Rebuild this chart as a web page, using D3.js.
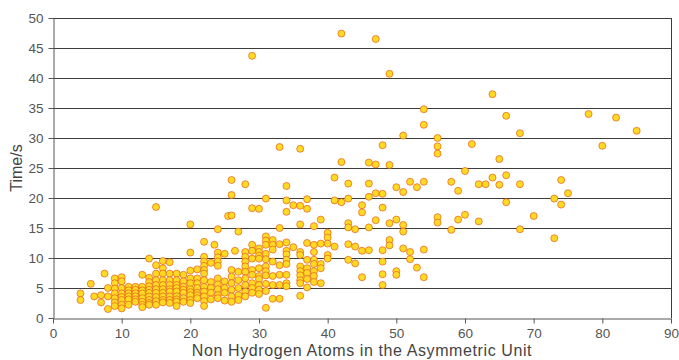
<!DOCTYPE html>
<html>
<head>
<meta charset="utf-8">
<script src="https://cdn.jsdelivr.net/npm/d3@7/dist/d3.min.js"></script>
<style>
  html, body { margin: 0; padding: 0; background: #fff; }
  svg { display: block; font-family: "Liberation Sans", Arial, sans-serif; }
</style>
</head>
<body>
<svg id="chart" width="679" height="360"></svg>
<script>
// columns: [atoms, [times in s]]
const lowRange = [
  [4, [4.1, 3]], [5.5, [5.7]], [6, [3.6]], [7, [3.8, 2.6]], [7.5, [7.4]],
  [8, [5, 3.6, 1.5]],
  [9, [6.6, 5.8, 4.9, 4.1, 3.3, 2.6, 2]],
  [10, [6.8, 6.1, 5, 4.1, 3.5, 3, 2.2, 1.6]],
  [11, [5.2, 4.6, 4.1, 3.6, 3.1, 2.2]],
  [12, [5.2, 4.7, 4.1, 3.6, 3.1, 2.7]],
  [13, [7.2, 5.2, 4.6, 4.1, 3.3, 2.7, 2.2, 1.8]],
  [14, [9.9, 6.7, 6, 5.3, 4.7, 4.2, 3.6, 3, 2.5, 2.2]],
  [15, [18.5, 8.8, 7.4, 6.3, 5.5, 4.8, 4.2, 3.5, 2.8, 2.2]],
  [16, [9.5, 8.3, 7.4, 6.3, 5.5, 4.8, 4.2, 3.6, 3, 2.6]],
  [17, [9.3, 7.4, 6.3, 5.5, 4.8, 4.4, 3.6, 3, 2.5]],
  [18, [7.4, 6.3, 5.5, 5, 4.4, 3.6, 3.1, 2.7, 2]],
  [19, [7.2, 6.1, 5.2, 4.7, 4.2, 3.3, 2.7]],
  [20, [15.6, 10.9, 7.9, 6.6, 5.8, 4.8, 4.3, 3.8, 3, 2.5]],
  [21, [8.1, 6.6, 5.8, 5, 4.2, 3.8, 3.3]],
  [22, [12.7, 10.2, 9.4, 8.7, 8, 7.4, 6.3, 5.2, 4.4, 3.6, 2.8, 2]],
  [23, [9.2, 6, 5, 4.2, 3.1]], [23.5, [12.2]],
  [24, [14.8, 10.9, 10.1, 9.4, 8.7, 6.6, 5.6, 4.8, 3.8, 3.3]],
  [25, [10.7, 6.1, 5, 4.2, 2.9]], [25.5, [17]]
];

const midRange = [
  [26, [23, 20.5, 17.1, 8, 6.9, 5.8, 4.7, 3.6, 2.7]], [26.5, [11.2]],
  [27, [14.4, 7.7, 6.3, 5, 3.8, 3]],
  [28, [22.3, 11, 10.2, 9.4, 8.6, 7.7, 6.6, 5.5, 4.4, 3.6]],
  [29, [43.7, 18.3, 12.2, 11.2, 9.9, 8, 7.2, 5.8, 5, 4.2]],
  [30, [18.2, 11.6, 11, 10.4, 9.9, 8.3, 7, 6.5, 5.5, 4.7, 4]],
  [31, [19.9, 13.6, 12.9, 12.2, 10.7, 9.8, 8.6, 7.8, 7.1, 5.7, 4.5, 1.7]],
  [32, [13, 12.2, 11.4, 9.4, 7, 5.5, 3.2]],
  [33, [28.5, 15, 12.3, 8.8, 7.2, 5.5, 3.2]],
  [34, [22, 19.6, 17.7, 12.6, 11.2, 10.6, 9.7, 9, 7.2, 5.8, 5.3]],
  [35, [18.8, 11.8]],
  [36, [28.2, 18.7, 15.6, 11, 10.5, 8.6, 7.8, 7.1, 6.3, 5.8, 3.7]],
  [37, [19.8, 18.2, 12.5, 9.7, 8.3, 7.5, 6.5, 5.1]],
  [38, [15.3, 12.2, 11, 9.7, 9, 7.8, 7, 6]],
  [39, [16.4, 12.4, 9, 8.3, 5.8]],
  [40, [14.2, 13.4, 12.4, 10.5, 9.9]],
  [41, [23.4, 19.6, 11.9]]
];

const highRange = [
  [42, [47.4, 26, 19.3]],
  [43, [22.4, 19.9, 15.8, 15.1, 12.3, 9.7]],
  [44, [14.8, 11.9, 9.1]],
  [45, [18.8, 17.6, 11.2, 6.8]],
  [46, [25.9, 22.4, 20.2, 15.1, 11.3]],
  [47, [46.5, 25.6, 20.8, 16.3]],
  [48, [28.8, 20.7, 18.4, 11.3, 9.4, 7.3, 5.5]],
  [49, [40.7, 25.5, 15.8, 13, 12.1]],
  [50, [21.8, 16.4, 7.8, 7.2]],
  [51, [30.4, 21, 15.5, 14.4, 11.6]],
  [52, [22.7, 11, 9.8]],
  [53, [21.8, 8.4]],
  [54, [34.8, 32.2, 22.7, 11.4, 6.8]],
  [56, [30, 28.6, 27.4, 16.8, 15.9]],
  [58, [22.7, 14.7]], [59, [21.2, 16.4]], [60, [24.5, 17.2]],
  [61, [29]], [62, [22.3, 16.1]], [63, [22.3]], [64, [37.3, 23.4]],
  [65, [26.5, 22.2]], [66, [33.7, 23.8, 19.3]], [68, [30.8, 22.3, 14.8]],
  [70, [17]], [73, [19.9, 13.3]], [74, [23, 18.9]], [75, [20.8]],
  [78, [34]], [80, [28.7]], [82, [33.4]], [85, [31.2]]
];

const xTicks = [0, 10, 20, 30, 40, 50, 60, 70, 80, 90];
const yTicks = [0, 5, 10, 15, 20, 25, 30, 35, 40, 45, 50];

const points = [];
[lowRange, midRange, highRange].forEach(range => {
  range.forEach(([atoms, times]) => {
    times.forEach(t => points.push([atoms, t]));
  });
});

const svg = d3.select('#chart');
const margin = { top: 18, right: 8, bottom: 42, left: 53 };
const width = 679 - margin.left - margin.right;
const height = 360 - margin.top - margin.bottom;

const x = d3.scaleLinear().domain([0, 90]).range([0, width]);
const y = d3.scaleLinear().domain([0, 50]).range([height, 0]);

const g = svg.append('g')
  .attr('transform', 'translate(' + margin.left + ',' + margin.top + ')');

// gridlines
g.append('g')
  .selectAll('line')
  .data(yTicks.filter(d => d > 0))
  .enter().append('line')
  .attr('x1', 0)
  .attr('x2', width)
  .attr('y1', d => Math.round(y(d)) + 0.5)
  .attr('y2', d => Math.round(y(d)) + 0.5)
  .attr('stroke', '#3c3c3c')
  .attr('stroke-width', 1);

// right border
g.append('line')
  .attr('x1', width + 0.5).attr('x2', width + 0.5)
  .attr('y1', 0).attr('y2', height)
  .attr('stroke', '#3c3c3c');

const yAxis = g.append('g')
  .attr('transform', 'translate(0.5,0)')
  .call(d3.axisLeft(y).tickValues(yTicks).tickSize(5).tickSizeOuter(0).tickPadding(5));

const xAxis = g.append('g')
  .attr('transform', 'translate(0,' + (height + 0.5) + ')')
  .call(d3.axisBottom(x).tickValues(xTicks).tickSize(5).tickSizeOuter(0).tickPadding(5));

[yAxis, xAxis].forEach(a => {
  a.select('.domain').attr('stroke', '#555');
  a.selectAll('.tick line').attr('stroke', '#555');
  a.selectAll('.tick text')
    .attr('fill', '#555')
    .style('font-size', '13.5px')
    .style('font-family', '"Liberation Sans", Arial, sans-serif');
});

// points
g.append('g')
  .selectAll('circle')
  .data(points)
  .enter().append('circle')
  .attr('cx', d => x(d[0]))
  .attr('cy', d => y(d[1]))
  .attr('r', 3.5)
  .attr('fill', '#FFDA22')
  .attr('stroke', 'rgb(226,88,28)')
  .attr('stroke-opacity', 0.75)
  .attr('stroke-width', 0.9);

svg.append('text')
  .attr('transform', 'translate(22,' + (margin.top + height / 2) + ') rotate(-90)')
  .attr('text-anchor', 'middle')
  .attr('fill', '#444')
  .style('font-size', '16px')
  .text('Time/s');

svg.append('text')
  .attr('x', margin.left + width / 2)
  .attr('y', 356)
  .attr('text-anchor', 'middle')
  .attr('fill', '#444')
  .style('font-size', '16px')
  .style('letter-spacing', '0.6px')
  .text('Non Hydrogen Atoms in the Asymmetric Unit');
</script>
</body>
</html>
